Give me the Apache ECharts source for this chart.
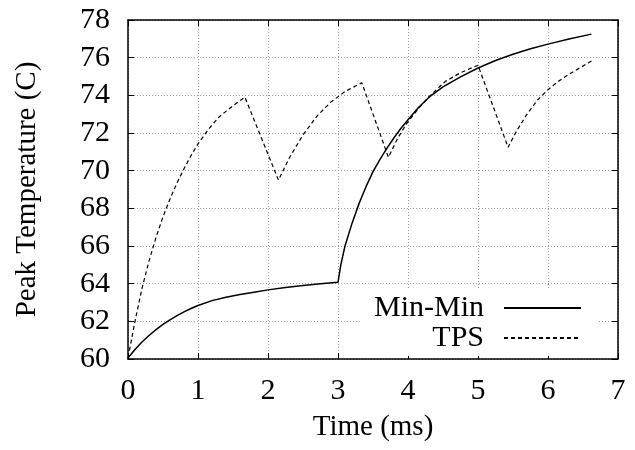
<!DOCTYPE html>
<html>
<head>
<meta charset="utf-8">
<script src="https://cdn.jsdelivr.net/npm/echarts@6/dist/echarts.min.js"></script>
<style>html,body{margin:0;padding:0;background:#fff}#c{width:635px;height:450px}</style>
</head>
<body>
<div id="c"></div>
<script>
var xTicks = [0, 1, 2, 3, 4, 5, 6, 7];
var yTicks = [60, 62, 64, 66, 68, 70, 72, 74, 76, 78];

var minMinTime = [0, 0.1, 0.2, 0.3, 0.4, 0.5, 0.6, 0.7, 0.8, 0.9, 1.0, 1.2, 1.4, 1.6, 1.8, 2.0, 2.25, 2.5, 2.75, 3.0,
  3.04, 3.1, 3.2, 3.3, 3.4, 3.5, 3.6, 3.7, 3.8, 3.9, 4.0, 4.15, 4.3, 4.5, 4.75, 5.0, 5.25, 5.5, 5.75, 6.0, 6.3, 6.62];
var minMinTemp = [60.05, 60.5, 60.9, 61.25, 61.56, 61.84, 62.08, 62.3, 62.5, 62.68, 62.84, 63.1, 63.28, 63.42, 63.55, 63.67, 63.8, 63.9, 63.99, 64.07,
  65.0, 66.0, 67.2, 68.25, 69.15, 69.95, 70.6, 71.2, 71.75, 72.25, 72.7, 73.35, 73.9, 74.45, 74.98, 75.45, 75.85, 76.18, 76.47, 76.72, 76.99, 77.25];

var tpsTime = [0.02, 0.1, 0.2, 0.3, 0.4, 0.5, 0.6, 0.7, 0.8, 0.9, 1.0, 1.15, 1.3, 1.5, 1.67,
  2.15, 2.3, 2.5, 2.7, 2.9, 3.1, 3.34,
  3.72, 3.85, 3.98, 4.15, 4.31, 4.53, 4.75, 5.0,
  5.43, 5.55, 5.7, 5.85, 6.0, 6.15, 6.3, 6.45, 6.65];
var tpsTemp = [60.45, 62.0, 63.75, 65.2, 66.45, 67.55, 68.5, 69.35, 70.1, 70.8, 71.42, 72.2, 72.85, 73.45, 73.9,
  69.5, 70.65, 71.9, 72.9, 73.65, 74.2, 74.67,
  70.71, 71.7, 72.5, 73.3, 73.96, 74.73, 75.2, 75.6,
  71.24, 72.1, 73.0, 73.75, 74.3, 74.75, 75.12, 75.45, 75.88];

var seriesNames = ['Min-Min', 'TPS'];
var xName = 'Time (ms)';
var yName = 'Peak Temperature (C)';

function pairs(xs, ys) { return xs.map(function (x, i) { return [x, ys[i]]; }); }

var FONT = '"Liberation Serif", "DejaVu Serif", serif';
var FS = 30;
var chart = echarts.init(document.getElementById('c'), null, { renderer: 'canvas' });

var baseX = {
  type: 'value', min: xTicks[0], max: xTicks[xTicks.length - 1], interval: 1,
  axisLine: { show: true, onZero: false, lineStyle: { color: '#000', width: 1.5 } },
  axisTick: { show: true, inside: true, length: 6, lineStyle: { color: '#000', width: 1 } }
};
var baseY = {
  type: 'value', min: yTicks[0], max: yTicks[yTicks.length - 1], interval: 2,
  axisLine: { show: true, onZero: false, lineStyle: { color: '#000', width: 1.5 } },
  axisTick: { show: true, inside: true, length: 6, lineStyle: { color: '#000', width: 1 } }
};

var legendCommon = {
  orient: 'vertical', align: 'right', right: 37,
  backgroundColor: '#fff',
  itemWidth: 77, itemHeight: 14,
  itemStyle: { opacity: 0 },
  textStyle: { fontFamily: FONT, fontSize: FS, color: '#000', padding: [0, 15, 0, 0] }
};

var option = {
  animation: false,
  backgroundColor: '#fff',
  textStyle: { fontFamily: FONT },
  grid: { left: 128, right: 17, top: 20, bottom: 91, containLabel: false },
  xAxis: [
    Object.assign({}, baseX, {
      position: 'bottom',
      name: xName, nameLocation: 'middle', nameGap: 54,
      nameTextStyle: { fontFamily: FONT, fontSize: 29, color: '#000' },
      axisLabel: { show: true, margin: 17, fontFamily: FONT, fontSize: FS, color: '#000' },
      splitLine: { show: true, lineStyle: { color: '#999', width: 1, type: [1, 2] } }
    }),
    Object.assign({}, baseX, {
      position: 'top', axisLabel: { show: false }, splitLine: { show: false }
    })
  ],
  yAxis: [
    Object.assign({}, baseY, {
      position: 'left',
      name: yName, nameLocation: 'middle', nameGap: 86,
      nameTextStyle: { fontFamily: FONT, fontSize: 29, color: '#000' },
      axisLabel: { show: true, margin: 18, fontFamily: FONT, fontSize: FS, color: '#000' },
      splitLine: { show: true, lineStyle: { color: '#999', width: 1, type: [1, 2] } }
    }),
    Object.assign({}, baseY, {
      position: 'right', axisLabel: { show: false }, splitLine: { show: false }
    })
  ],
  legend: [
    Object.assign({}, legendCommon, {
      data: [seriesNames[0]], top: 288, padding: [5, 16, 0, 13]
    }),
    Object.assign({}, legendCommon, {
      data: [seriesNames[1]], top: 318, padding: [5, 16, 3, 71]
    })
  ],
  series: [
    {
      name: seriesNames[0], type: 'line', xAxisIndex: 0, yAxisIndex: 0,
      data: pairs(minMinTime, minMinTemp), showSymbol: false, symbol: 'none',
      lineStyle: { color: '#000', width: 1.5, type: 'solid' },
      itemStyle: { color: '#000' }
    },
    {
      name: seriesNames[1], type: 'line', xAxisIndex: 0, yAxisIndex: 0,
      data: pairs(tpsTime, tpsTemp), showSymbol: false, symbol: 'none',
      lineStyle: { color: '#000', width: 1.2, type: [4, 3] },
      itemStyle: { color: '#000' }
    }
  ]
};
chart.setOption(option);
</script>
</body>
</html>
